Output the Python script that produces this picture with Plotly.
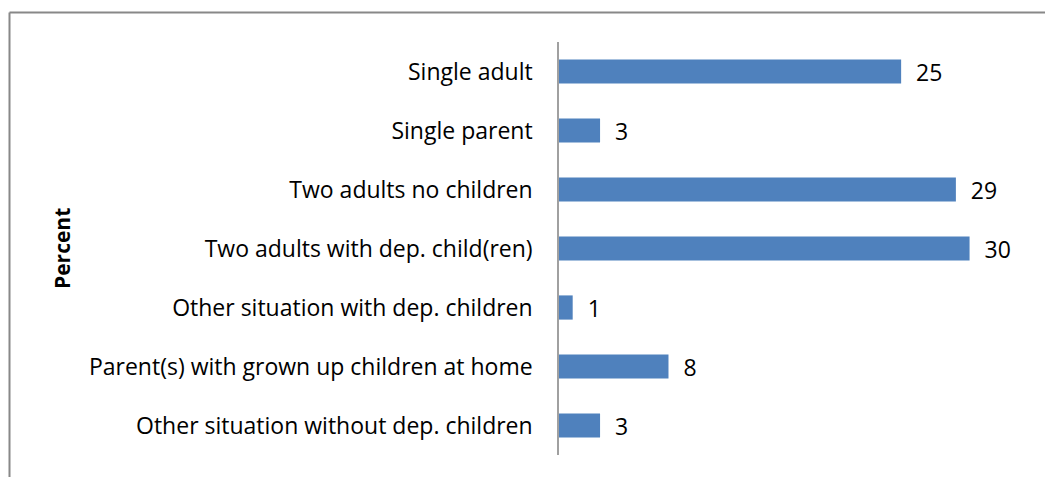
import plotly.graph_objects as go

categories = [
    "Single adult",
    "Single parent",
    "Two adults no children",
    "Two adults with dep. child(ren)",
    "Other situation with dep. children",
    "Parent(s) with grown up children at home",
    "Other situation without dep. children",
]
values = [25, 3, 29, 30, 1, 8, 3]

OFF = 8  # default body margin of the page
W, H = 1053 - OFF, 477 - OFF
L, R, T, B = 559 - OFF, 1038 - OFF, 42 - OFF, 455 - OFF
FONT = "Open Sans"
FS = 23

def px(x):
    return (x - OFF - L) / (R - L)

def py(y):
    return (B - (y - OFF)) / (B - T)

fig = go.Figure(go.Bar(
    x=values,
    y=categories,
    orientation="h",
    marker=dict(color="#4F81BD", line=dict(width=0)),
    text=values,
    texttemplate="  %{text}",
    textposition="outside",
    constraintext="none",
    textfont=dict(size=FS, color="black", family=FONT),
    cliponaxis=False,
    width=0.41,
))

fig.update_layout(
    width=W, height=H,
    margin=dict(l=L, r=W - R, t=T, b=H - B, pad=0),
    plot_bgcolor="white", paper_bgcolor="white",
    font=dict(family=FONT, size=FS, color="black"),
    showlegend=False,
    xaxis=dict(range=[0, 35], showgrid=False, zeroline=False, showticklabels=False,
               showline=False, ticks=""),
    yaxis=dict(autorange="reversed", showgrid=False, zeroline=False,
               showline=True, linecolor="#A0A0A0", linewidth=1.5,
               ticks="", ticklabelstandoff=20,
               tickfont=dict(size=FS, family=FONT, color="black")),
    annotations=[dict(
        text="<b>Percent</b>", textangle=-90, x=px(62), y=py(249),
        xref="paper", yref="paper", showarrow=False,
        font=dict(size=21, family=FONT, color="black"),
        xanchor="center", yanchor="middle",
    )],
    shapes=[
        dict(type="line", xref="paper", yref="paper",
             x0=px(9.5), x1=px(1070), y0=py(12.5), y1=py(12.5),
             line=dict(color="#888888", width=2)),
        dict(type="line", xref="paper", yref="paper",
             x0=px(9.5), x1=px(9.5), y0=py(12.5), y1=py(500),
             line=dict(color="#888888", width=2)),
    ],
)

fig.write_html("out.html")
